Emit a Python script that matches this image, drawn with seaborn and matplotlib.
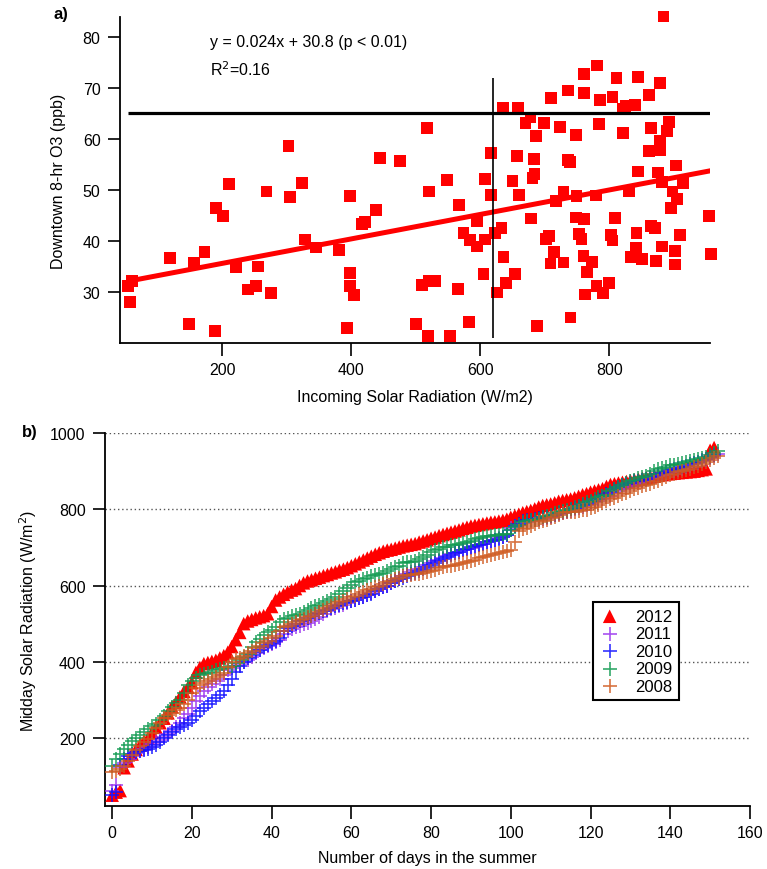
import matplotlib
matplotlib.use('Agg')
import matplotlib.pyplot as plt
import seaborn as sns
import numpy as np
import pandas as pd

sns.set_style('ticks')
plt.rcParams['font.family'] = ['Liberation Sans', 'DejaVu Sans']
plt.rcParams['text.color'] = 'black'
plt.rcParams['axes.labelcolor'] = 'black'
plt.rcParams['xtick.color'] = 'black'
plt.rcParams['ytick.color'] = 'black'
plt.rcParams['axes.edgecolor'] = 'black'

# ---- panel a: downtown ozone vs incoming solar radiation ----
solar_rad = [54, 61, 57, 119, 149, 157, 173, 189, 191, 202,
             211, 222, 240, 253, 256, 269, 276, 303, 305, 324,
             328, 346, 381, 394, 398, 398, 398, 405, 417, 421,
             438, 445, 476, 501, 510, 517, 519, 521, 521, 530,
             549, 553, 565, 567, 574, 583, 584, 595, 595, 605,
             607, 608, 617, 617, 623, 633, 636, 654, 640, 626,
             635, 658, 678, 670, 699, 687, 710, 723, 736, 748,
             761, 761, 781, 786, 784, 805, 811, 821, 825, 821,
             840, 845, 861, 879, 884, 864, 893, 889, 879, 878,
             862, 657, 683, 736, 739, 650, 684, 681, 660, 729,
             717, 749, 779, 830, 845, 875, 903, 882, 914, 898,
             905, 895, 679, 748, 761, 809, 955, 706, 702, 753,
             757, 803, 805, 842, 865, 871, 910, 714, 709, 729,
             760, 773, 765, 841, 834, 851, 872, 882, 902, 902,
             957, 780, 800, 790, 762, 740, 688]
downtown_o3 = [31.1, 32.2, 28.0, 36.7, 23.7, 35.8, 37.9, 22.3, 46.4, 44.9,
               51.1, 34.8, 30.5, 31.2, 35.0, 49.7, 29.8, 58.6, 48.6, 51.4,
               40.3, 38.7, 38.3, 22.9, 48.8, 33.7, 31.2, 29.4, 43.4, 43.7,
               46.0, 56.3, 55.7, 23.7, 31.4, 62.1, 21.4, 49.7, 32.2, 32.1,
               51.9, 21.3, 30.6, 47.0, 41.5, 24.1, 40.2, 43.9, 38.9, 33.5,
               52.1, 40.3, 57.2, 49.0, 41.5, 42.6, 36.8, 33.5, 31.8, 29.9,
               66.1, 66.0, 64.2, 63.1, 63.1, 60.6, 68.0, 62.4, 69.5, 60.7,
               72.7, 69.0, 74.4, 67.7, 62.9, 68.2, 72.0, 65.9, 66.4, 61.2,
               66.7, 72.2, 68.6, 70.9, 84.0, 62.2, 63.3, 61.5, 59.7, 57.9,
               57.6, 56.6, 56.1, 55.9, 55.5, 51.8, 53.2, 52.4, 49.0, 49.7,
               47.9, 48.8, 48.9, 49.7, 53.6, 53.4, 54.8, 51.6, 51.4, 49.7,
               48.2, 46.4, 44.4, 44.6, 44.3, 44.5, 44.9, 40.9, 40.4, 41.4,
               40.4, 41.2, 40.1, 41.5, 43.0, 42.5, 41.1, 37.8, 35.6, 35.8,
               37.1, 35.9, 33.9, 38.6, 36.8, 36.5, 36.0, 38.9, 38.0, 35.4,
               37.5, 31.2, 31.8, 29.8, 29.5, 25.0, 23.3]
fit_slope = 0.024
fit_intercept = 30.8
o3_standard = 65
solar_split = 620
solar_split_span = [21, 72]

# ---- panel b: sorted midday solar radiation per summer ----
rad_2012 = [50, 58, 62, 122, 140, 158, 170, 182, 192, 200,
            215, 228, 240, 252, 266, 282, 294, 308, 322, 333,
            345, 372, 385, 395, 398, 401, 404, 410, 416, 425,
            440, 458, 477, 500, 507, 511, 515, 518, 521, 526,
            545, 562, 570, 577, 583, 588, 592, 600, 607, 612,
            615, 619, 622, 626, 629, 633, 636, 640, 643, 647,
            652, 657, 662, 667, 672, 677, 682, 686, 690, 693,
            695, 698, 701, 704, 706, 708, 710, 714, 717, 720,
            724, 727, 731, 734, 737, 740, 743, 746, 750, 753,
            756, 758, 760, 762, 764, 766, 767, 769, 771, 774,
            779, 783, 787, 791, 794, 797, 801, 806, 810, 812,
            814, 817, 821, 823, 825, 827, 830, 834, 838, 841,
            845, 848, 851, 854, 860, 865, 867, 869, 871, 873,
            875, 877, 879, 881, 883, 885, 887, 889, 891, 893,
            894, 895, 896, 897, 898, 899, 900, 902, 904, 906,
            955, 962]
rad_2011 = [62, 78, 125, 135, 145, 152, 160, 165, 170, 176,
            184, 189, 194, 202, 210, 219, 230, 240, 252, 262,
            280, 296, 310, 322, 334, 342, 350, 356, 366, 378,
            384, 390, 395, 399, 405, 413, 422, 430, 436, 441,
            446, 451, 458, 474, 480, 485, 490, 495, 498, 502,
            507, 512, 518, 525, 532, 538, 542, 546, 550, 554,
            559, 563, 567, 571, 575, 580, 585, 590, 595, 600,
            606, 612, 618, 625, 630, 635, 640, 644, 648, 653,
            658, 664, 668, 672, 677, 682, 686, 689, 692, 695,
            699, 702, 705, 709, 713, 717, 720, 724, 728, 732,
            752, 756, 760, 765, 767, 769, 771, 773, 775, 778,
            781, 784, 787, 790, 793, 796, 800, 804, 807, 810,
            814, 818, 822, 826, 831, 836, 842, 847, 852, 857,
            862, 866, 870, 874, 878, 881, 884, 887, 890, 893,
            897, 900, 903, 906, 910, 914, 918, 922, 926, 930,
            935, 940, 945]
rad_2010 = [50, 58, 130, 145, 152, 158, 163, 167, 169, 171,
            176, 182, 190, 200, 208, 216, 224, 229, 234, 240,
            248, 258, 270, 280, 288, 296, 304, 314, 324, 338,
            355, 372, 388, 400, 410, 418, 425, 432, 438, 443,
            449, 455, 462, 480, 488, 494, 500, 506, 510, 514,
            519, 524, 528, 532, 537, 542, 546, 550, 554, 557,
            560, 563, 566, 570, 574, 579, 585, 590, 595, 600,
            606, 611, 616, 621, 625, 629, 633, 638, 643, 648,
            654, 660, 665, 669, 674, 680, 685, 689, 693, 697,
            700, 703, 707, 710, 713, 716, 719, 722, 727, 733,
            745, 755, 762, 768, 771, 773, 775, 777, 779, 781,
            783, 786, 790, 793, 796, 800, 804, 808, 811, 815,
            819, 823, 828, 834, 840, 846, 853, 858, 863, 867,
            870, 873, 875, 877, 880, 884, 888, 892, 896, 899,
            902, 905, 908, 911, 914, 918, 921, 924, 928, 932,
            937, 942]
rad_2009 = [127, 145, 158, 172, 182, 192, 200, 208, 216, 224,
            232, 238, 248, 258, 270, 282, 292, 300, 318, 340,
            350, 358, 364, 368, 371, 374, 378, 381, 384, 387,
            390, 396, 404, 412, 420, 438, 451, 460, 470, 478,
            484, 492, 505, 512, 516, 519, 522, 525, 530, 536,
            541, 546, 550, 555, 559, 564, 569, 578, 586, 594,
            602, 609, 613, 617, 620, 624, 627, 631, 634, 638,
            643, 648, 652, 658, 661, 663, 665, 670, 675, 680,
            688, 694, 697, 700, 702, 705, 707, 710, 712, 715,
            718, 721, 725, 728, 730, 731, 732, 733, 734, 736,
            745, 753, 760, 766, 769, 771, 773, 775, 779, 782,
            786, 789, 792, 795, 798, 801, 805, 809, 813, 818,
            823, 828, 832, 835, 838, 848, 853, 858, 864, 870,
            875, 878, 881, 884, 887, 892, 900, 906, 909, 912,
            915, 917, 919, 922, 924, 926, 929, 931, 934, 937,
            942, 948, 952]
rad_2008 = [112, 114, 120, 127, 140, 155, 168, 178, 189, 198,
            212, 226, 240, 252, 260, 266, 273, 280, 288, 300,
            318, 330, 338, 344, 350, 355, 360, 365, 370, 385,
            400, 406, 411, 416, 422, 428, 436, 442, 448, 455,
            462, 468, 480, 490, 495, 500, 505, 509, 513, 517,
            521, 526, 531, 536, 542, 547, 551, 556, 560, 564,
            569, 573, 577, 582, 587, 591, 596, 600, 604, 608,
            612, 616, 620, 625, 627, 628, 629, 630, 632, 635,
            638, 642, 645, 648, 650, 652, 654, 656, 659, 662,
            665, 668, 671, 674, 677, 680, 683, 686, 688, 690,
            692, 714, 744, 748, 752, 757, 762, 766, 770, 773,
            777, 781, 785, 790, 792, 793, 794, 796, 797, 799,
            803, 807, 812, 816, 821, 826, 830, 834, 839, 843,
            848, 852, 856, 860, 864, 867, 871, 875, 880, 884,
            889, 893, 897, 900, 903, 906, 910, 914, 918, 923,
            928, 935, 941]

years = ['2012', '2011', '2010', '2009', '2008']
year_series = [rad_2012, rad_2011, rad_2010, rad_2009, rad_2008]
year_colors = ['#ff0000', '#9933ee', '#1010ff', '#109a50', '#d05a20']

fig = plt.figure(figsize=(7.67, 8.70), dpi=100)
ax1 = fig.add_axes([0.1565, 0.6046, 0.7692, 0.3747])
ax2 = fig.add_axes([0.1369, 0.0724, 0.8409, 0.4287])

# panel a
df_a = pd.DataFrame({'solar': solar_rad, 'o3': downtown_o3})
sns.scatterplot(data=df_a, x='solar', y='o3', marker='s', s=72, color='#ff0000',
                edgecolor='none', linewidth=0, ax=ax1, clip_on=False, zorder=3)
xfit = np.array([min(solar_rad), max(solar_rad)])
ax1.plot(xfit, fit_slope * xfit + fit_intercept, color='#ff0000', lw=3.6,
         solid_capstyle='butt', zorder=4)
ax1.hlines(o3_standard, min(solar_rad), max(solar_rad), color='black', lw=2.3, zorder=5)
ax1.vlines(solar_split, solar_split_span[0], solar_split_span[1], color='black', lw=1.2, zorder=5)
ax1.set_xlim(42, 956)
ax1.set_ylim(20, 83.9)
ax1.set_xticks([200, 400, 600, 800])
ax1.set_yticks([30, 40, 50, 60, 70, 80])
ax1.set_xlabel('Incoming Solar Radiation (W/m2)', fontsize=11.5, labelpad=8)
ax1.set_ylabel('Downtown 8-hr O3 (ppb)', fontsize=11.5, labelpad=12)
ax1.text(0.1525, 0.926, 'y = 0.024x + 30.8 (p < 0.01)', transform=ax1.transAxes,
         fontsize=11.5, va='center', ha='left')
ax1.text(0.1525, 0.842, 'R$^2$=0.16', transform=ax1.transAxes,
         fontsize=11.5, va='center', ha='left')
fig.text(53 / 767, 1 - 15 / 870, 'a)', fontsize=12, fontweight='bold', va='center', ha='left')

# panel b
for yr, vals, col in zip(years, year_series, year_colors):
    days = np.arange(len(vals))
    if yr == '2012':
        sns.scatterplot(x=days, y=vals, marker='^', s=95, color=col, edgecolor='none',
                        linewidth=0, ax=ax2, label=yr, zorder=3)
    else:
        sns.scatterplot(x=days, y=vals, marker='+', s=100, color=col, linewidth=1.2,
                        ax=ax2, label=yr, zorder=3, alpha=0.85)
ax2.set_xlim(-1.8, 160)
ax2.set_ylim(21.6, 1000)
ax2.set_xticks(range(0, 161, 20))
ax2.set_yticks(range(200, 1001, 200))
ax2.yaxis.grid(True, linestyle=(0, (1, 2)), color='#555555', lw=1)
ax2.set_axisbelow(True)
ax2.set_xlabel('Number of days in the summer', fontsize=11.5, labelpad=7)
ax2.set_ylabel('Midday Solar Radiation (W/m$^2$)', fontsize=11.5, labelpad=8)
fig.text(22 / 767, 1 - 433 / 870, 'b)', fontsize=12, fontweight='bold', va='center', ha='left')

handles, labels = ax2.get_legend_handles_labels()
leg = ax2.legend(handles, labels, loc='upper left', bbox_to_anchor=(0.7566, 0.547),
                 fontsize=12, frameon=True, fancybox=False, framealpha=1,
                 edgecolor='black', handlelength=1.2, handletextpad=0.9,
                 labelspacing=0.15, borderpad=0.4, borderaxespad=0)
leg.get_frame().set_linewidth(1.5)

for ax in (ax1, ax2):
    sns.despine(ax=ax)
    for sp in ('left', 'bottom'):
        ax.spines[sp].set_linewidth(1.3)
    ax.tick_params(direction='out', length=9, width=1.2, labelsize=11.5, pad=5)

fig.savefig('out.png', dpi=100)
